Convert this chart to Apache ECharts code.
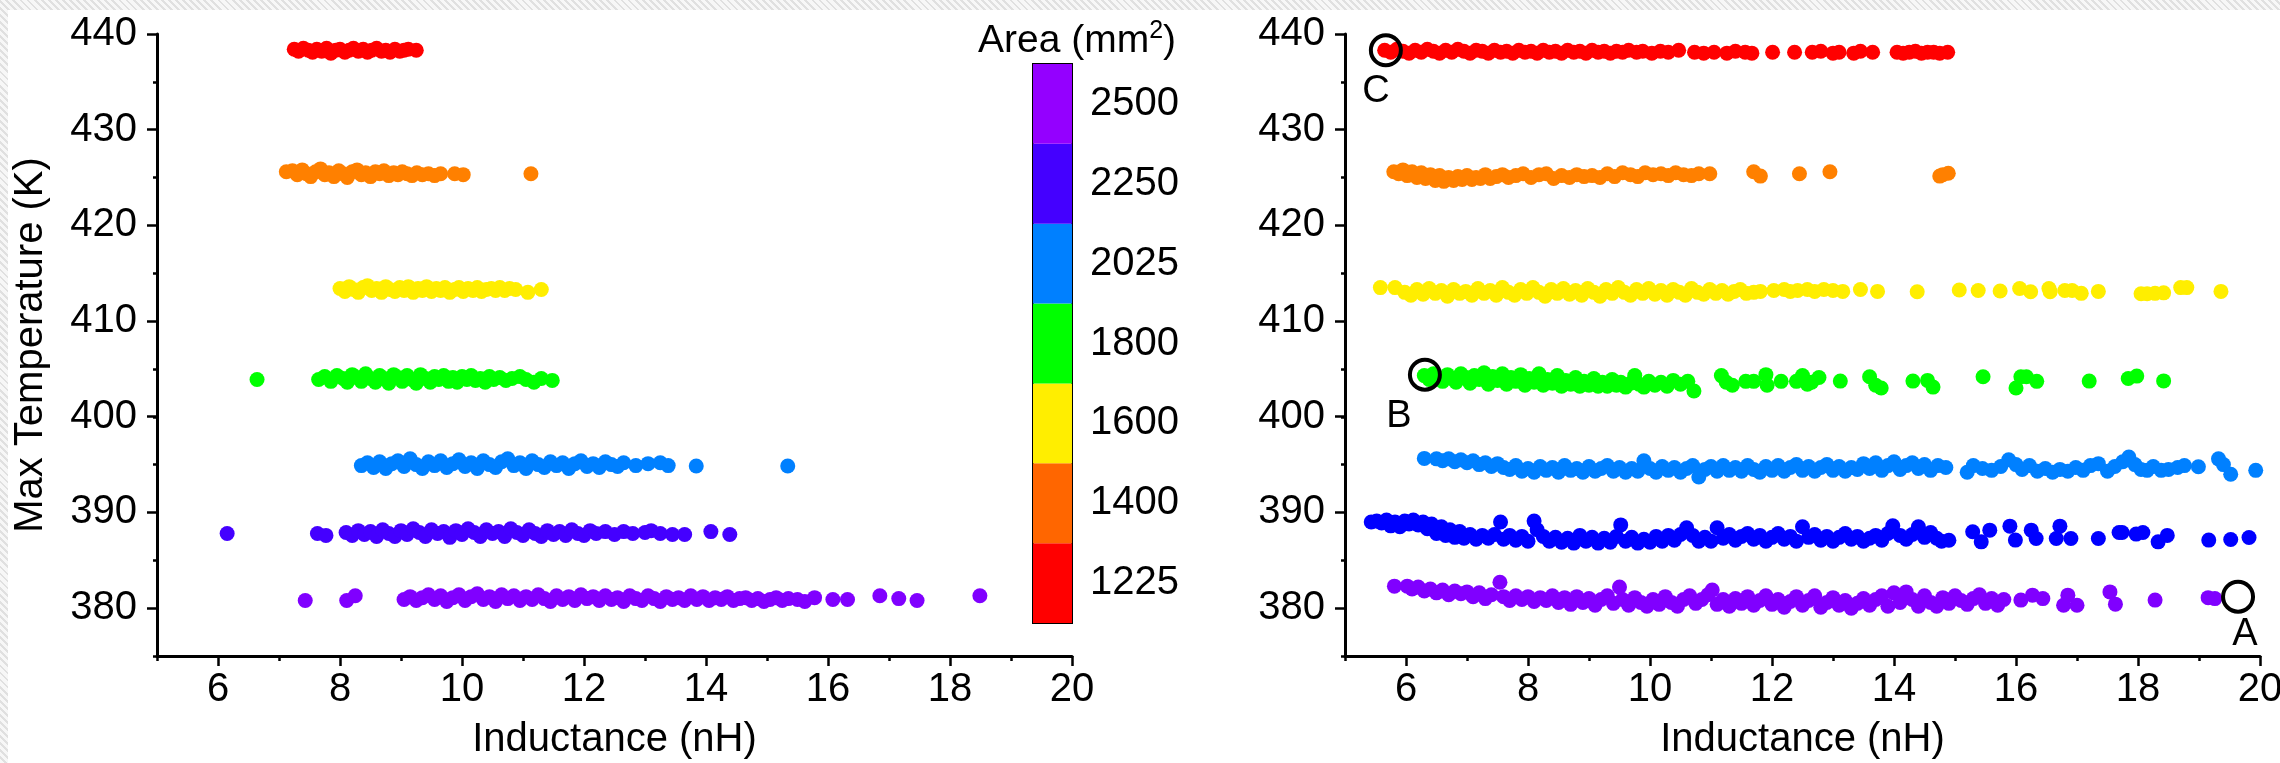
<!DOCTYPE html>
<html><head><meta charset="utf-8">
<script src="https://cdn.jsdelivr.net/npm/echarts@6/dist/echarts.min.js"></script>
<style>
html,body{margin:0;padding:0;width:2280px;height:763px;overflow:hidden;
background:repeating-linear-gradient(45deg,#f7f7f7 0px,#f7f7f7 3px,#e0e0e0 3px,#e0e0e0 5px);}
#paper{position:absolute;left:8px;top:10px;width:2272px;height:753px;background:#fff;}
#chart{position:absolute;left:0;top:0;width:2280px;height:763px;}
</style></head><body><div id="paper"></div><div id="chart"></div>
<script>
// ---------- data ----------
const areaLevels = ['1225','1400','1600','1800','2025','2250','2500'];
const barColors  = ['#FF0000','#FF6600','#FFEE00','#00FF00','#0080FF','#4400FF','#9400FF'];
const leftColors = ['#FF0000','#FF8000','#FFEE00','#00FF00','#0080FF','#4400FF','#8000FF'];
const rightColors= ['#FF0000','#FF8000','#FFEE00','#00FF00','#0080FF','#0000FF','#8000FF'];
const xTicks = [6,8,10,12,14,16,18,20];
const yTicks = [380,390,400,410,420,430,440];

const L1225 = [[7.25,438.4],[7.32,438.2],[7.40,438.5],[7.48,438.3],[7.55,438.1],[7.62,438.4],[7.70,438.2],[7.78,438.5],[7.85,438.0],[7.93,438.3],[8.00,438.4],[8.08,438.1],[8.15,438.3],[8.22,438.5],[8.30,438.2],[8.38,438.4],[8.45,438.1],[8.52,438.3],[8.60,438.5],[8.68,438.2],[8.75,438.3],[8.82,438.1],[8.90,438.4],[8.98,438.2],[9.05,438.3],[9.12,438.4],[9.25,438.3]];
const L1400 = [[7.12,425.6],[7.22,425.7],[7.30,425.3],[7.38,425.8],[7.45,425.4],[7.52,425.1],[7.60,425.6],[7.68,425.9],[7.75,425.3],[7.82,425.5],[7.90,425.1],[7.98,425.7],[8.05,425.4],[8.12,425.0],[8.20,425.6],[8.28,425.8],[8.35,425.3],[8.42,425.5],[8.50,425.1],[8.58,425.6],[8.65,425.4],[8.72,425.7],[8.80,425.2],[8.88,425.5],[8.95,425.3],[9.02,425.6],[9.10,425.4],[9.18,425.2],[9.26,425.5],[9.35,425.3],[9.45,425.4],[9.55,425.2],[9.65,425.4],[9.88,425.4],[10.02,425.3],[11.13,425.4]];
const L1600 = [[8.00,413.4],[8.08,413.1],[8.15,413.6],[8.22,413.3],[8.30,413.0],[8.38,413.5],[8.45,413.7],[8.52,413.2],[8.60,413.4],[8.68,413.0],[8.75,413.6],[8.82,413.3],[8.90,413.1],[8.98,413.5],[9.05,413.2],[9.12,413.6],[9.20,413.0],[9.28,413.4],[9.35,413.2],[9.42,413.6],[9.50,413.1],[9.58,413.4],[9.65,413.2],[9.72,413.5],[9.80,413.0],[9.88,413.3],[9.95,413.5],[10.02,413.1],[10.10,413.4],[10.18,413.2],[10.25,413.5],[10.32,413.1],[10.40,413.3],[10.48,413.4],[10.55,413.2],[10.62,413.5],[10.70,413.2],[10.78,413.4],[10.88,413.3],[11.08,413.0],[11.30,413.3]];
const L1800 = [[6.64,403.9],[7.65,403.9],[7.75,404.2],[7.85,403.7],[7.95,404.3],[8.05,404.0],[8.12,403.6],[8.20,404.4],[8.28,404.1],[8.35,403.7],[8.42,404.5],[8.50,404.0],[8.58,403.6],[8.65,404.3],[8.72,404.0],[8.80,403.5],[8.88,404.4],[8.95,404.1],[9.02,403.7],[9.10,404.3],[9.18,403.9],[9.25,403.5],[9.32,404.4],[9.40,404.0],[9.48,403.6],[9.55,404.2],[9.62,403.9],[9.70,404.3],[9.78,403.7],[9.85,404.1],[9.92,403.6],[10.00,404.2],[10.08,403.9],[10.15,404.3],[10.22,403.8],[10.30,404.0],[10.38,403.6],[10.45,404.2],[10.52,403.9],[10.62,404.1],[10.72,403.8],[10.82,404.0],[10.95,404.2],[11.05,403.9],[11.18,403.6],[11.30,404.0],[11.48,403.8]];
const L2025 = [[8.35,394.9],[8.45,395.2],[8.55,394.7],[8.65,395.3],[8.75,394.6],[8.85,395.1],[8.95,395.4],[9.05,394.8],[9.15,395.6],[9.25,395.0],[9.35,394.6],[9.45,395.3],[9.55,394.9],[9.65,395.4],[9.75,394.7],[9.85,395.1],[9.95,395.5],[10.05,394.8],[10.15,395.2],[10.25,394.6],[10.35,395.4],[10.45,395.0],[10.55,394.7],[10.65,395.3],[10.75,395.6],[10.85,394.9],[10.95,395.2],[11.05,394.6],[11.15,395.4],[11.25,395.0],[11.35,394.7],[11.45,395.3],[11.55,394.9],[11.65,395.2],[11.75,394.6],[11.85,395.1],[11.95,395.4],[12.05,394.8],[12.15,395.1],[12.25,394.7],[12.35,395.3],[12.45,395.0],[12.55,394.8],[12.65,395.2],[12.85,394.9],[13.05,395.1],[13.25,395.2],[13.38,394.9],[13.84,394.85],[15.34,394.85]];
const L2250 = [[6.15,387.8],[7.63,387.8],[7.77,387.6],[8.10,387.9],[8.20,387.6],[8.30,388.1],[8.40,387.7],[8.50,388.0],[8.60,387.5],[8.70,388.2],[8.80,387.8],[8.90,387.5],[9.00,388.1],[9.10,387.7],[9.20,388.3],[9.30,387.9],[9.40,387.5],[9.50,388.2],[9.60,387.8],[9.70,388.0],[9.80,387.4],[9.90,388.1],[10.00,387.7],[10.10,388.3],[10.20,387.9],[10.30,387.5],[10.40,388.2],[10.50,387.8],[10.60,388.0],[10.70,387.5],[10.80,388.3],[10.90,387.9],[11.00,387.6],[11.10,388.2],[11.20,387.8],[11.30,387.5],[11.40,388.1],[11.50,387.7],[11.60,388.0],[11.70,387.6],[11.80,388.2],[11.90,387.8],[12.00,387.6],[12.10,388.1],[12.20,387.8],[12.35,388.0],[12.50,387.7],[12.65,388.0],[12.80,387.8],[13.00,387.9],[13.10,388.1],[13.25,387.8],[13.45,387.7],[13.65,387.7],[14.08,388.0],[14.39,387.7]];
const L2500 = [[7.43,380.8],[8.11,380.8],[8.25,381.3],[9.05,380.9],[9.15,381.2],[9.25,380.8],[9.35,381.1],[9.45,381.4],[9.55,380.9],[9.65,381.3],[9.75,380.7],[9.85,381.1],[9.95,381.4],[10.05,380.8],[10.15,381.2],[10.25,381.5],[10.35,380.9],[10.45,381.2],[10.55,380.7],[10.65,381.4],[10.75,381.0],[10.85,381.3],[10.95,380.8],[11.05,381.2],[11.15,380.9],[11.25,381.4],[11.35,381.0],[11.45,380.7],[11.55,381.3],[11.65,380.9],[11.75,381.2],[11.85,380.8],[11.95,381.4],[12.05,381.0],[12.15,381.2],[12.25,380.8],[12.35,381.3],[12.45,380.9],[12.55,381.1],[12.65,380.7],[12.75,381.3],[12.85,381.0],[12.95,380.8],[13.05,381.3],[13.15,381.0],[13.25,380.7],[13.35,381.2],[13.45,380.9],[13.55,381.1],[13.65,380.8],[13.75,381.3],[13.85,380.9],[13.95,381.2],[14.05,380.8],[14.15,381.1],[14.25,380.9],[14.35,381.2],[14.45,380.8],[14.55,381.0],[14.65,381.1],[14.75,380.8],[14.85,381.0],[14.95,380.7],[15.05,380.9],[15.15,381.1],[15.25,380.8],[15.35,381.0],[15.50,380.9],[15.62,380.7],[15.78,381.1],[16.08,380.9],[16.32,380.9],[16.85,381.3],[17.16,381.0],[17.46,380.8],[18.49,381.3]];

const R1225 = [[5.65,438.3],[5.75,438.1],[5.85,438.4],[5.95,438.2],[6.05,438.0],[6.15,438.3],[6.25,438.1],[6.35,438.4],[6.45,438.2],[6.55,438.0],[6.65,438.3],[6.75,438.1],[6.85,438.4],[6.95,438.2],[7.05,438.0],[7.15,438.3],[7.25,438.2],[7.35,438.0],[7.45,438.3],[7.55,438.1],[7.65,438.2],[7.75,438.0],[7.85,438.3],[7.95,438.1],[8.05,438.2],[8.15,438.0],[8.25,438.3],[8.35,438.1],[8.45,438.2],[8.55,438.0],[8.65,438.3],[8.75,438.1],[8.85,438.2],[8.95,438.0],[9.05,438.3],[9.15,438.1],[9.25,438.2],[9.35,438.0],[9.45,438.2],[9.55,438.1],[9.65,438.3],[9.78,438.1],[9.88,438.2],[10.03,438.0],[10.17,438.2],[10.30,438.1],[10.47,438.3],[10.73,438.1],[10.88,438.0],[11.05,438.1],[11.26,438.0],[11.40,438.2],[11.56,438.1],[11.67,438.0],[12.01,438.1],[12.37,438.1],[12.66,438.1],[12.80,438.2],[13.00,438.0],[13.10,438.1],[13.34,438.0],[13.45,438.2],[13.65,438.1],[14.05,438.1],[14.15,438.0],[14.25,438.1],[14.35,438.2],[14.45,438.0],[14.55,438.1],[14.65,438.1],[14.75,438.0],[14.88,438.1]];
const R1400 = [[5.80,425.6],[5.88,425.4],[5.95,425.8],[6.02,425.2],[6.10,425.6],[6.18,425.0],[6.25,425.5],[6.32,424.9],[6.40,425.3],[6.48,424.7],[6.55,425.2],[6.62,424.6],[6.70,425.0],[6.78,424.7],[6.85,425.1],[6.92,424.8],[7.00,425.2],[7.08,424.8],[7.15,425.0],[7.22,424.9],[7.30,425.3],[7.38,424.9],[7.48,425.1],[7.58,425.3],[7.68,425.0],[7.80,425.2],[7.92,425.4],[8.05,425.0],[8.18,425.3],[8.30,425.4],[8.42,424.9],[8.55,425.2],[8.68,425.0],[8.80,425.3],[8.92,425.1],[9.05,425.2],[9.18,425.0],[9.30,425.4],[9.42,425.1],[9.55,425.5],[9.68,425.3],[9.80,425.1],[9.92,425.5],[10.05,425.3],[10.18,425.4],[10.30,425.2],[10.42,425.5],[10.55,425.3],[10.68,425.2],[10.80,425.4],[10.98,425.4],[11.70,425.6],[11.81,425.15],[12.45,425.4],[12.95,425.6],[14.75,425.15],[14.80,425.3],[14.89,425.45]];
const R1600 = [[5.58,413.5],[5.82,413.5],[5.98,413.0],[6.08,412.7],[6.18,413.3],[6.28,412.8],[6.38,413.4],[6.48,412.9],[6.58,413.2],[6.68,412.6],[6.78,413.3],[6.88,412.9],[6.98,413.1],[7.08,412.7],[7.18,413.4],[7.28,412.9],[7.38,413.2],[7.48,412.7],[7.58,413.5],[7.68,413.0],[7.78,412.7],[7.88,413.3],[7.98,412.9],[8.08,413.5],[8.18,413.0],[8.28,412.6],[8.38,413.3],[8.48,412.9],[8.58,413.4],[8.68,412.8],[8.78,413.2],[8.88,412.7],[8.98,413.4],[9.08,413.0],[9.18,412.6],[9.28,413.3],[9.38,412.9],[9.48,413.5],[9.58,413.0],[9.68,412.7],[9.78,413.3],[9.88,412.9],[9.98,413.4],[10.08,412.8],[10.18,413.2],[10.28,412.7],[10.38,413.3],[10.48,413.0],[10.58,412.7],[10.68,413.4],[10.78,413.0],[10.88,412.8],[10.98,413.3],[11.08,412.9],[11.18,413.2],[11.28,412.8],[11.38,413.1],[11.48,413.3],[11.58,412.9],[11.70,413.0],[11.81,413.1],[12.03,413.2],[12.20,413.3],[12.30,413.1],[12.42,413.2],[12.58,413.3],[12.70,413.1],[12.85,413.3],[13.00,413.2],[13.16,413.1],[13.45,413.3],[13.73,413.1],[14.38,413.06],[15.07,413.25],[15.38,413.2],[15.74,413.15],[16.06,413.4],[16.24,413.06],[16.54,413.4],[16.56,413.06],[16.80,413.2],[16.92,413.2],[17.07,412.9],[17.35,413.1],[18.05,412.85],[18.15,412.85],[18.28,412.9],[18.42,412.95],[18.70,413.5],[18.80,413.5],[19.36,413.1]];
const R1800 = [[6.30,404.3],[6.38,403.9],[6.45,404.5],[6.52,404.1],[6.60,403.7],[6.68,404.4],[6.75,404.0],[6.82,403.6],[6.90,404.5],[6.98,404.1],[7.05,403.5],[7.12,404.3],[7.20,403.9],[7.28,404.6],[7.35,403.4],[7.42,404.2],[7.50,403.8],[7.58,404.5],[7.65,403.4],[7.72,404.1],[7.80,403.7],[7.88,404.4],[7.95,403.3],[8.02,404.0],[8.10,403.6],[8.18,404.5],[8.25,403.3],[8.32,403.9],[8.40,403.5],[8.48,404.3],[8.55,403.2],[8.62,403.8],[8.70,403.4],[8.78,404.1],[8.85,403.2],[8.92,403.7],[9.00,403.3],[9.08,404.0],[9.15,403.2],[9.22,403.6],[9.30,403.2],[9.38,403.9],[9.45,403.3],[9.52,403.6],[9.60,403.1],[9.68,403.5],[9.75,404.3],[9.82,403.4],[9.90,403.1],[9.98,403.7],[10.08,403.3],[10.18,403.6],[10.28,403.2],[10.38,403.8],[10.50,403.4],[10.62,403.7],[10.72,402.7],[11.17,404.3],[11.25,403.6],[11.35,403.3],[11.57,403.7],[11.70,403.7],[11.90,404.4],[11.92,403.3],[12.15,403.7],[12.40,403.7],[12.50,404.3],[12.58,403.4],[12.65,403.6],[12.77,404.1],[13.12,403.73],[13.60,404.18],[13.70,403.3],[13.79,403.0],[14.31,403.73],[14.55,403.8],[14.64,403.1],[15.46,404.18],[16.00,403.0],[16.08,404.18],[16.17,404.18],[16.34,403.7],[17.20,403.73],[17.84,404.0],[17.98,404.25],[18.42,403.75]];
const R2025 = [[6.30,395.65],[6.50,395.6],[6.60,395.4],[6.70,395.6],[6.80,395.3],[6.90,395.5],[7.00,395.2],[7.10,395.4],[7.20,395.0],[7.30,395.2],[7.40,394.8],[7.50,395.1],[7.60,394.7],[7.70,394.5],[7.80,394.9],[7.90,394.3],[8.00,394.6],[8.10,394.2],[8.20,394.8],[8.30,394.4],[8.40,394.7],[8.50,394.2],[8.60,394.9],[8.70,394.4],[8.80,394.6],[8.90,394.2],[9.00,394.8],[9.10,394.3],[9.20,394.6],[9.30,394.9],[9.40,394.3],[9.50,394.7],[9.60,394.2],[9.70,394.6],[9.80,394.3],[9.90,395.4],[10.00,394.6],[10.10,394.2],[10.20,394.8],[10.30,394.4],[10.40,394.7],[10.50,394.2],[10.60,394.6],[10.70,394.9],[10.80,393.7],[10.90,394.5],[11.00,394.8],[11.10,394.3],[11.20,394.9],[11.30,394.4],[11.40,394.7],[11.50,394.3],[11.60,394.9],[11.70,394.5],[11.80,394.2],[11.90,394.8],[12.00,394.4],[12.10,394.9],[12.20,394.3],[12.30,394.7],[12.40,395.0],[12.50,394.4],[12.60,394.8],[12.70,394.3],[12.80,394.7],[12.90,395.0],[13.00,394.4],[13.10,394.8],[13.20,394.3],[13.30,394.7],[13.40,394.5],[13.50,395.1],[13.60,394.6],[13.70,395.2],[13.80,394.4],[13.90,394.9],[14.00,395.3],[14.10,394.5],[14.20,394.9],[14.30,395.2],[14.40,394.6],[14.50,395.0],[14.60,394.4],[14.72,394.9],[14.85,394.7],[15.20,394.2],[15.30,394.9],[15.45,394.6],[15.60,394.4],[15.75,394.8],[15.88,395.5],[16.00,395.0],[16.10,394.5],[16.22,394.9],[16.35,394.3],[16.48,394.6],[16.60,394.2],[16.72,394.5],[16.85,394.3],[16.98,394.7],[17.10,394.4],[17.22,394.9],[17.35,395.1],[17.50,394.3],[17.62,394.8],[17.75,395.3],[17.85,395.8],[17.95,395.0],[18.05,394.5],[18.15,394.4],[18.25,394.8],[18.38,394.4],[18.50,394.5],[18.65,394.7],[18.76,394.9],[18.99,394.77],[19.32,395.6],[19.40,395.0],[19.52,394.0],[19.93,394.4]];
const R2250 = [[5.43,389.0],[5.52,389.1],[5.60,388.9],[5.68,389.2],[5.75,388.6],[5.82,389.0],[5.90,388.5],[5.98,389.1],[6.05,388.8],[6.12,389.2],[6.20,388.7],[6.28,389.0],[6.35,388.3],[6.42,388.8],[6.50,387.8],[6.58,388.5],[6.65,387.6],[6.72,388.2],[6.80,387.4],[6.88,388.0],[6.95,387.3],[7.05,387.7],[7.15,387.2],[7.25,387.6],[7.35,387.3],[7.45,387.7],[7.55,389.0],[7.60,387.2],[7.70,387.6],[7.80,387.1],[7.90,387.5],[8.00,387.0],[8.10,389.1],[8.15,388.2],[8.25,387.5],[8.35,387.0],[8.45,387.4],[8.55,386.9],[8.65,387.3],[8.75,386.8],[8.85,387.6],[8.95,387.0],[9.05,387.4],[9.15,386.8],[9.25,387.3],[9.35,386.9],[9.45,387.5],[9.52,388.7],[9.60,387.0],[9.70,387.4],[9.80,386.8],[9.90,387.2],[10.00,386.9],[10.10,387.5],[10.20,387.0],[10.30,387.6],[10.40,387.1],[10.50,387.7],[10.60,388.4],[10.70,387.6],[10.80,387.0],[10.90,387.4],[11.00,387.0],[11.10,388.4],[11.20,387.3],[11.30,387.7],[11.40,387.1],[11.50,387.5],[11.60,387.8],[11.70,387.2],[11.80,387.6],[11.90,387.0],[12.00,387.4],[12.10,387.8],[12.20,387.2],[12.30,387.5],[12.40,387.0],[12.50,388.5],[12.60,387.4],[12.70,387.7],[12.80,387.1],[12.90,387.5],[13.00,387.0],[13.10,387.4],[13.20,387.8],[13.30,387.2],[13.40,387.5],[13.50,387.0],[13.60,387.3],[13.70,387.6],[13.80,387.1],[13.90,387.8],[13.98,388.6],[14.10,387.6],[14.20,387.2],[14.30,387.7],[14.40,388.5],[14.50,387.4],[14.60,387.9],[14.70,387.3],[14.78,387.0],[14.90,387.1],[15.29,387.98],[15.43,386.93],[15.57,388.15],[15.90,388.57],[15.99,387.11],[16.25,388.15],[16.33,387.28],[16.66,387.28],[16.72,388.57],[16.90,387.28],[17.35,387.28],[17.69,387.9],[17.74,387.9],[17.97,387.74],[18.08,387.9],[18.33,386.93],[18.48,387.6],[19.16,387.11],[19.52,387.17],[19.82,387.39]];
const R2500 = [[5.81,382.3],[6.02,382.3],[6.10,382.0],[6.20,382.2],[6.30,381.8],[6.40,382.0],[6.50,381.6],[6.60,381.9],[6.70,381.4],[6.80,381.8],[6.90,381.5],[7.00,381.7],[7.10,381.2],[7.20,381.6],[7.30,381.0],[7.40,381.4],[7.54,382.7],[7.60,381.2],[7.70,380.8],[7.80,381.3],[7.90,380.9],[8.00,381.2],[8.10,380.7],[8.20,381.1],[8.30,380.8],[8.40,381.3],[8.50,380.6],[8.60,381.1],[8.70,380.4],[8.80,381.2],[8.90,380.6],[9.00,381.0],[9.10,380.3],[9.20,380.9],[9.30,381.3],[9.40,380.5],[9.50,382.2],[9.55,380.9],[9.65,380.3],[9.75,381.1],[9.85,380.6],[9.95,380.2],[10.05,380.9],[10.15,380.4],[10.25,381.2],[10.35,380.6],[10.45,380.2],[10.55,380.9],[10.65,381.3],[10.75,380.5],[10.85,380.9],[10.95,381.4],[11.02,381.9],[11.10,380.4],[11.20,380.9],[11.30,380.2],[11.40,381.0],[11.50,380.5],[11.60,381.2],[11.70,380.3],[11.80,380.8],[11.90,381.3],[12.00,380.4],[12.10,380.9],[12.20,380.1],[12.30,380.7],[12.40,381.2],[12.50,380.3],[12.60,380.8],[12.70,381.3],[12.80,380.1],[12.90,380.6],[13.00,381.1],[13.10,380.3],[13.20,380.8],[13.30,380.0],[13.40,380.5],[13.50,381.0],[13.60,380.3],[13.70,380.9],[13.80,381.3],[13.90,380.2],[14.00,381.6],[14.10,380.6],[14.20,381.7],[14.30,380.9],[14.40,380.2],[14.50,381.3],[14.60,380.6],[14.70,380.2],[14.80,381.1],[14.90,380.5],[15.00,381.3],[15.10,380.8],[15.20,380.4],[15.30,381.0],[15.40,381.4],[15.50,380.5],[15.60,381.0],[15.70,380.3],[15.80,380.9],[16.08,380.84],[16.27,381.36],[16.44,381.0],[16.78,380.3],[16.85,381.36],[17.00,380.3],[17.54,381.7],[17.63,380.42],[18.28,380.84],[19.15,381.1],[19.26,381.0]];

const markNames = ['A','B','C'];
const markPoints = [[19.64,381.2],[6.31,404.4],[5.67,438.3]];

// ---------- chart ----------
const FF = '"Liberation Sans", Arial, Helvetica, sans-serif';
const leftSets = [L1225,L1400,L1600,L1800,L2025,L2250,L2500];
const rightSets = [R1225,R1400,R1600,R1800,R2025,R2250,R2500];

const PX = 61, TOP = 34, H = 622, W = 915;
const grids = [
  {left:157, top:TOP, width:W, height:H},
  {left:157+PX, top:TOP, width:W-PX, height:574},
  {left:1345, top:TOP, width:W, height:H},
  {left:1345+PX, top:TOP, width:W-PX, height:574},
  {left:1033, top:64, width:39, height:559, show:true, borderColor:'#000', borderWidth:2, backgroundColor:'rgba(0,0,0,0)'}
].map(g => Object.assign({containLabel:false, outerBoundsMode:'none'}, g));

function mainX(gi){ return {type:'value', gridIndex:gi, min:5, max:20, interval:1,
  axisLine:{show:true, onZero:false, lineStyle:{color:'#000', width:3}},
  axisTick:{show:true, length:5, lineStyle:{color:'#000', width:2.5}},
  axisLabel:{show:false}, splitLine:{show:false},
  name:'Inductance (nH)', nameLocation:'middle', nameGap:64,
  nameTextStyle:{fontSize:40, color:'#000', fontFamily:FF}}; }
function mainY(gi, withName){ const a = {type:'value', gridIndex:gi, min:375, max:440, interval:5,
  axisLine:{show:true, onZero:false, lineStyle:{color:'#000', width:3}},
  axisTick:{show:true, length:4, lineStyle:{color:'#000', width:2.5}},
  axisLabel:{show:false}, splitLine:{show:false}};
  if (withName) Object.assign(a, {name:'Max Temperature (K)', nameLocation:'middle', nameGap:106,
    nameTextStyle:{fontSize:40, color:'#000', fontFamily:FF}});
  return a; }
function tickX(gi){ return {type:'value', gridIndex:gi, min:xTicks[0], max:xTicks[xTicks.length-1], interval:xTicks[1]-xTicks[0], offset:48,
  axisLine:{show:false, onZero:false}, axisTick:{show:true, length:10, lineStyle:{color:'#000', width:2.5}},
  axisLabel:{fontSize:40, color:'#000', margin:14, fontFamily:FF}, splitLine:{show:false}}; }
function tickY(gi){ return {type:'value', gridIndex:gi, min:yTicks[0], max:yTicks[yTicks.length-1], interval:yTicks[1]-yTicks[0], offset:PX,
  axisLine:{show:false, onZero:false}, axisTick:{show:true, length:10, lineStyle:{color:'#000', width:2.5}},
  axisLabel:{fontSize:40, color:'#000', margin:20, fontFamily:FF}, splitLine:{show:false}}; }

const DOT = 15;
const series = [];
leftSets.forEach((d,i)=>series.push({type:'scatter', xAxisIndex:0, yAxisIndex:0, data:d, symbolSize:DOT,
  itemStyle:{color:leftColors[i], opacity:1}, z:2}));
rightSets.forEach((d,i)=>series.push({type:'scatter', xAxisIndex:2, yAxisIndex:2, data:d, symbolSize:DOT,
  itemStyle:{color:rightColors[i], opacity:1}, z:2}));
const labelOffsets = [[7,38],[-26,42],[-10,41]];
series.push({type:'scatter', xAxisIndex:2, yAxisIndex:2, z:5, symbol:'circle', symbolSize:30,
  itemStyle:{color:'rgba(0,0,0,0)', borderColor:'#000', borderWidth:4, opacity:1},
  data: markPoints.map((p,i)=>({value:p, name:markNames[i],
    label:{show:true, position:'inside', formatter:markNames[i], offset:labelOffsets[i], fontSize:38, color:'#000', fontFamily:FF}}))});
series.push({type:'bar', xAxisIndex:4, yAxisIndex:4, barWidth:'100%', barCategoryGap:'0%',
  data: areaLevels.map((v,i)=>({value:1, itemStyle:{color:barColors[i]}})), z:1});

const option = {
  backgroundColor:'rgba(0,0,0,0)', animation:false,
  textStyle:{fontFamily:FF},
  title:{text:'Area (mm{s|2})', left:973, top:14,
    textStyle:{fontSize:39, color:'#000', fontWeight:'normal', fontFamily:FF,
      rich:{s:{fontSize:25, color:'#000', fontFamily:FF, padding:[0,0,20,0]}}}},
  grid: grids,
  xAxis:[mainX(0), tickX(1), mainX(2), tickX(3),
    {type:'value', gridIndex:4, min:0, max:1, show:false}],
  yAxis:[mainY(0,true), tickY(1), mainY(2,false), tickY(3),
    {type:'category', gridIndex:4, data:areaLevels, position:'right',
     axisLine:{show:false}, axisTick:{show:false}, splitLine:{show:false},
     axisLabel:{fontSize:40, color:'#000', margin:18, fontFamily:FF}}],
  series
};
const chart = echarts.init(document.getElementById('chart'), null, {renderer:'canvas'});
chart.setOption(option);
</script></body></html>
